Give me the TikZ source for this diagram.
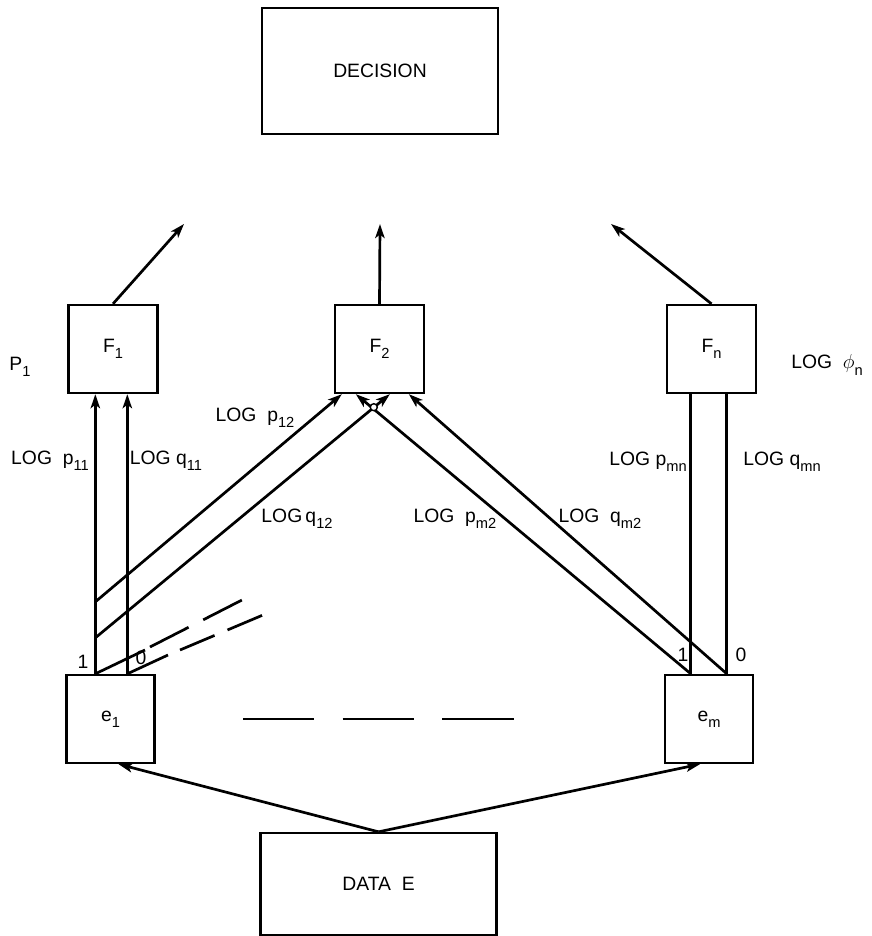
\documentclass[tikz,border=0pt]{standalone}
\usepackage{fontspec}
\setmainfont{Liberation Sans}
\usetikzlibrary{arrows.meta,calc}
\newcommand{\lsub}[1]{\raisebox{-0.6ex}{\fontsize{12.5}{12.5}\selectfont #1}}
\tikzset{
    box/.style={draw, line width=2pt, inner sep=0pt, align=center},
    fbox/.style={box, minimum width=2.67cm, minimum height=2.64cm},
    ebox/.style={box, minimum width=2.64cm, minimum height=2.64cm},
    wide/.style={box, minimum width=7.07cm},
    flow/.style={-{Stealth[length=12pt, width=8pt, inset=3pt]}, line width=2.3pt},
    wire/.style={line width=2.3pt},
    note/.style={inner sep=0pt},
}

\begin{document}
\begin{tikzpicture}[x=0.03cm, y=-0.03cm,
    every node/.style={font=\fontsize{16.5}{18}\selectfont}]

    \useasboundingbox (0,0) rectangle (871,936);

    % boxes
    \node[wide, minimum height=3.78cm] (decision) at (380,71) {DECISION};
    \node[fbox] (fone) at (113,349) {F\lsub{1}};
    \node[fbox] (ftwo) at (379.5,349) {F\lsub{2}};
    \node[fbox] (fn) at (711.5,349) {F\lsub{n}};
    \node[ebox] (eone) at (110.5,719) {e\lsub{1}};
    \node[ebox] (em) at (709,719) {e\lsub{m}};
    \node[wide, minimum height=3.06cm] (data) at (378.5,884) {DATA\ \ E};

    % outputs towards the decision
    \coordinate (outone) at (184,224);
    \coordinate (outtwo) at (380,224);
    \coordinate (outn) at (611,224);
    \draw[flow] (fone.north) -- (outone);
    \draw[flow] (ftwo.north) -- (outtwo);
    \draw[flow] (fn.north) -- (outn);

    % ports of the evidence boxes
    \coordinate (eone1) at ($(eone.north west)+(30,0)$);
    \coordinate (eone0) at ($(eone.north west)+(62,0)$);
    \coordinate (em1) at ($(em.north west)+(27,0)$);
    \coordinate (em0) at ($(em.north west)+(63,0)$);
    \coordinate (bp) at ($(eone1)+(0,-72)$);
    \coordinate (bq) at ($(eone1)+(0,-36)$);

    \draw[flow] (eone1) -- (eone1 |- fone.south);
    \draw[flow] (eone0) -- (eone0 |- fone.south);
    \draw[wire] (em1) -- (em1 |- fn.south);
    \draw[wire] (em0) -- (em0 |- fn.south);

    \draw[flow] (bp) -- ($(ftwo.south west)+(8,0)$);
    \draw[flow] (bq) -- ($(ftwo.south west)+(56,0)$);
    \draw[flow] (em1) -- ($(ftwo.south west)+(22,0)$);
    \draw[flow] (em0) -- ($(ftwo.south west)+(75,0)$);
    \coordinate (hop) at (373.8,407.2);
    \draw[line width=1.2pt, fill=white] (hop) circle (3pt);

    % lines to the other F boxes
    \coordinate (upa) at (145,650);
    \coordinate (upb) at (150,647);
    \coordinate (upc) at (242,600);
    \coordinate (loa) at (168,655);
    \coordinate (lob) at (180,650);
    \coordinate (loc) at (263,615);
    \draw[wire] (eone1) -- (upa);
    \draw[wire, dash pattern=on 37pt off 14pt] (upb) -- (upc);
    \draw[wire] (eone0) -- (loa);
    \draw[wire, dash pattern=on 32pt off 12pt] (lob) -- (loc);

    \coordinate (gapl) at (243,719);
    \coordinate (gapr) at (520,719);
    \draw[wire, dash pattern=on 61pt off 24pt] (gapl) -- (gapr);

    % data feeds the evidence boxes
    \draw[flow] (data.north) -- ($(eone.south)+(8,0)$);
    \draw[flow] (data.north) -- ($(em.south)+(-9,0)$);

    % labels
    \node[note] (pone) at (20,367) {P\lsub{1}};
    \node[note] (logphi) at (827,365) {LOG\ \ $\phi$\lsub{n}};
    \node[note] (lpone) at (50,461) {LOG\ \ p\lsub{11}};
    \node[note] (lqone) at (166,461) {LOG\ q\lsub{11}};
    \node[note] (lptwo) at (255,418) {LOG\ \ p\lsub{12}};
    \node[note] (lqtwo) at (297,519) {LOG\,q\lsub{12}};
    \node[note] (lpmtwo) at (455,519) {LOG\ \ p\lsub{m2}};
    \node[note] (lqmtwo) at (600,519) {LOG\ \ q\lsub{m2}};
    \node[note] (lpmn) at (648,462) {LOG\ p\lsub{mn}};
    \node[note] (lqmn) at (782,462) {LOG\ q\lsub{mn}};
    \node[note] (oneone) at (83,662) {1};
    \node[note] (onezero) at (141,658) {0};
    \node[note] (mone) at (683,655) {1};
    \node[note] (mzero) at (741,655) {0};

\end{tikzpicture}
\end{document}
